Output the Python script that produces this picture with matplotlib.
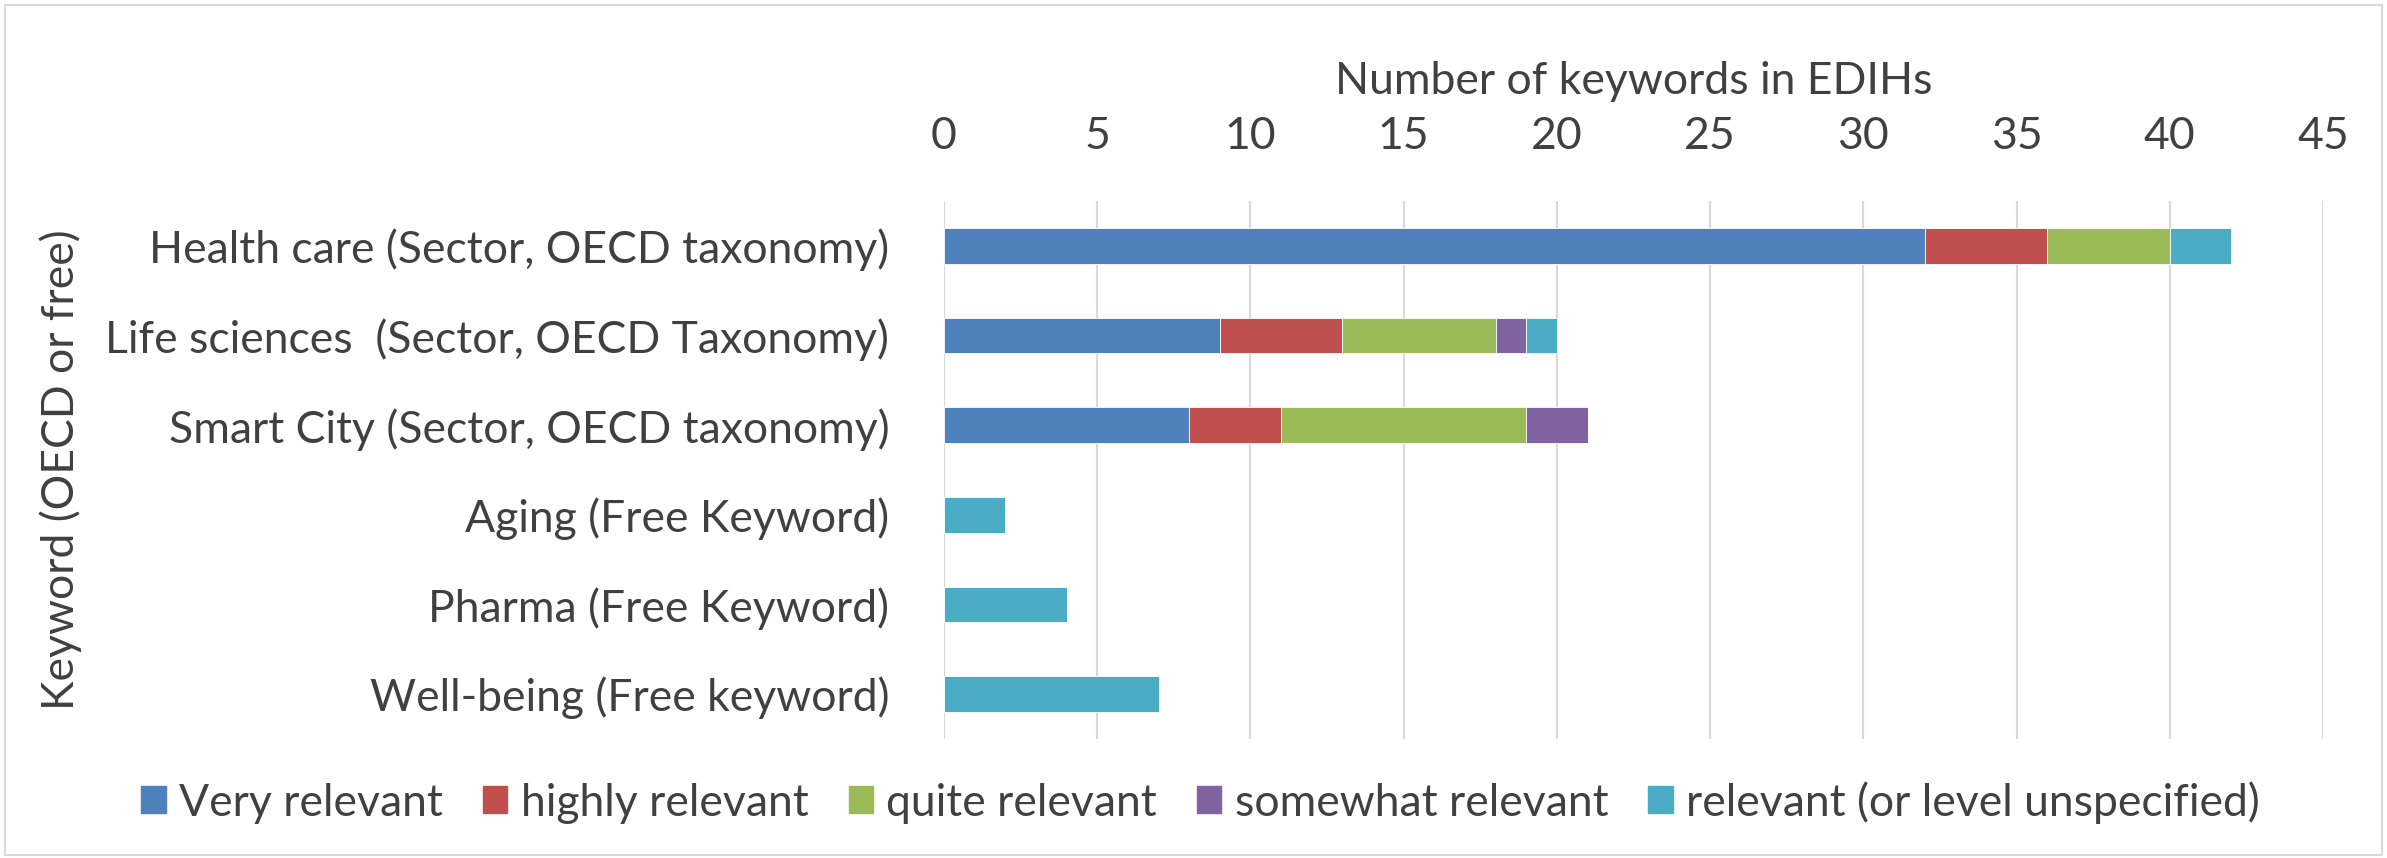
import numpy as np
import matplotlib.pyplot as plt
import matplotlib.patches as mpatches

# categories, top to bottom as in the chart
categories = ["Health care (Sector, OECD taxonomy)",
              "Life sciences  (Sector, OECD Taxonomy)",
              "Smart City (Sector, OECD taxonomy)",
              "Aging (Free Keyword)",
              "Pharma (Free Keyword)",
              "Well-being (Free keyword)"]

very_relevant = [32, 9, 8, 0, 0, 0]
highly_relevant = [4, 4, 3, 0, 0, 0]
quite_relevant = [4, 5, 8, 0, 0, 0]
somewhat_relevant = [0, 1, 2, 0, 0, 0]
relevant_unspec = [2, 1, 0, 2, 4, 7]

series_names = ["Very relevant", "highly relevant", "quite relevant",
                "somewhat relevant", "relevant (or level unspecified)"]
colors = ["#4F81BD", "#C0504D", "#9BBB59", "#8064A2", "#4BACC6"]
xticks = [0, 5, 10, 15, 20, 25, 30, 35, 40, 45]

plt.rcParams['font.family'] = ['Lato', 'DejaVu Sans']
fs = 32

fig = plt.figure(figsize=(23.87, 8.58), dpi=100)
ax = fig.add_axes([0.3955, 0.1387, 0.9732 - 0.3955, 0.7657 - 0.1387])

y = np.arange(len(categories))
left = np.zeros(len(categories))
series = [very_relevant, highly_relevant, quite_relevant, somewhat_relevant, relevant_unspec]
for vals, name, c in zip(series, series_names, colors):
    vals = np.array(vals, dtype=float)
    ax.barh(y, vals, left=left, height=0.4, color=c, label=name,
            edgecolor='white', linewidth=0.6)
    left += vals

ax.set_ylim(len(categories) - 0.5, -0.5)
ax.set_xlim(0, 45)
ax.set_yticks(y)
ax.set_yticklabels(categories, fontsize=fs, color='#404040')
ax.set_xticks(xticks)
ax.tick_params(axis='x', labeltop=True, labelbottom=False, top=False, bottom=False,
               labelsize=fs, labelcolor='#404040', pad=28)
ax.tick_params(axis='y', left=False, pad=36)
ax.xaxis.set_label_position('top')
ax.set_xlabel("Number of keywords in EDIHs", fontsize=fs, color='#404040', labelpad=16)
ax.grid(axis='x', color='#D9D9D9', linewidth=1.5)
ax.set_axisbelow(True)
for s in ax.spines.values():
    s.set_visible(False)

fig.text(0.0256, 0.4525, "Keyword (OECD or free)", rotation=90, fontsize=fs,
         color='#404040', ha='center', va='center')

handles = [mpatches.Patch(color=c) for c in colors]
fig.legend(handles, series_names, loc='center', bbox_to_anchor=(0.503, 0.065), ncol=5,
           frameon=False, fontsize=fs, labelcolor='#404040', handlelength=0.55,
           handleheight=0.55, handletextpad=0.3, columnspacing=0.9)

fig.patches.append(mpatches.Rectangle((0.002, 0.004), 0.996, 0.99, transform=fig.transFigure,
                                      fill=False, edgecolor='#D9D9D9', linewidth=1.5))

fig.savefig("out.png", dpi=100, facecolor='white')
